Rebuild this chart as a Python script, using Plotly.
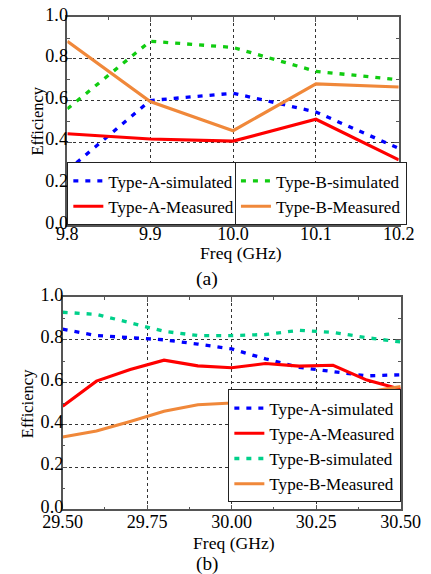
import plotly.graph_objects as go

# ---------------- data (a) ----------------
freq_a = [9.8, 9.9, 10.0, 10.1, 10.2]
a_sim_a = [0.264, 0.600, 0.635, 0.545, 0.370]
a_meas_a = [0.440, 0.415, 0.405, 0.510, 0.315]
b_sim_a = [0.560, 0.885, 0.855, 0.740, 0.700]
b_meas_a = [0.885, 0.595, 0.455, 0.680, 0.665]

# ---------------- data (b) ----------------
freq_b = [29.5, 29.6, 29.7, 29.8, 29.9, 30.0, 30.1, 30.2, 30.3, 30.4, 30.5]
a_sim_b = [0.850, 0.820, 0.810, 0.800, 0.780, 0.757, 0.710, 0.670, 0.650, 0.630, 0.635]
a_meas_b = [0.487, 0.605, 0.660, 0.704, 0.677, 0.668, 0.688, 0.676, 0.680, 0.610, 0.567]
b_sim_b = [0.930, 0.920, 0.880, 0.840, 0.820, 0.820, 0.825, 0.845, 0.835, 0.810, 0.790]
b_meas_b = [0.342, 0.370, 0.415, 0.463, 0.494, 0.502, 0.534, 0.543, 0.554, 0.554, 0.580]

names = ["Type-A-simulated", "Type-A-Measured", "Type-B-simulated", "Type-B-Measured"]

# layout helpers: target pixel positions are given in the 431x574 picture
S, M = 0.9655, 8.0
W, H = 440, 586
FONT = "Liberation Serif, Times New Roman, serif"
BLUE = "#0000FF"
RED = "#FF0000"
GREEN = "#11CC11"
TEAL = "#00D08A"
ORANGE = "#F0883A"
DASH = "5px,7px"


def fs(v):
    return v / S


def px(xp):
    return (xp / S - M) / W


def py(yp):
    return 1 - (yp / S - M) / H


fig = go.Figure()

series_a = [(a_sim_a, BLUE, True, "legend"), (a_meas_a, RED, False, "legend"),
            (b_sim_a, GREEN, True, "legend2"), (b_meas_a, ORANGE, False, "legend2")]
for name, (vals, col, dashed, leg) in zip(names, series_a):
    fig.add_trace(go.Scatter(
        x=freq_a, y=vals, name=name, mode="lines",
        line=dict(color=col, width=fs(3.2) if dashed else fs(3), dash=DASH if dashed else "solid"),
        xaxis="x", yaxis="y", legend=leg))

series_b = [(a_sim_b, BLUE, True), (a_meas_b, RED, False),
            (b_sim_b, TEAL, True), (b_meas_b, ORANGE, False)]
for name, (vals, col, dashed) in zip(names, series_b):
    fig.add_trace(go.Scatter(
        x=freq_b, y=vals, name=name, mode="lines",
        line=dict(color=col, width=fs(3.2) if dashed else fs(3), dash=DASH if dashed else "solid"),
        xaxis="x2", yaxis="y2", legend="legend3"))

axis_common = dict(
    showline=True, linecolor="#555555", linewidth=1.5, mirror="ticks",
    ticks="inside", ticklen=5, tickcolor="#555555", tickwidth=1.2,
    showgrid=True, gridcolor="#333333", griddash="dot", gridwidth=1,
    zeroline=False,
    tickfont=dict(family=FONT, size=fs(17.5), color="black"),
)
minor_common = dict(ticks="inside", ticklen=3, tickcolor="#555555", showgrid=False)

legend_common = dict(xanchor="left", yanchor="bottom",
                     bgcolor="white", bordercolor="#222222", borderwidth=1,
                     font=dict(family=FONT, size=fs(16.5)), tracegroupgap=0,
                     itemwidth=30)

fig.update_layout(
    width=W, height=H,
    margin=dict(l=0, r=0, t=0, b=0),
    paper_bgcolor="white", plot_bgcolor="white",
    font=dict(family=FONT, size=fs(16), color="black"),
    xaxis=dict(axis_common, domain=[px(58), px(410)], range=[9.8, 10.2],
               dtick=0.1, tick0=9.8, tickformat=".1f", anchor="y",
               ticklabelstandoff=-9,
               minor=dict(minor_common, dtick=0.05)),
    yaxis=dict(axis_common, domain=[py(220), py(12)], range=[0, 1],
               dtick=0.2, tickformat=".1f", anchor="x",
               ticklabelstandoff=-6, ticklabelshift=-3,
               minor=dict(minor_common, dtick=0.1)),
    xaxis2=dict(axis_common, domain=[px(53), px(412)], range=[29.5, 30.5],
                dtick=0.25, tick0=29.5, tickformat=".2f", anchor="y2",
                ticklabelstandoff=-5,
                minor=dict(minor_common, dtick=0.125)),
    yaxis2=dict(axis_common, domain=[py(504), py(292)], range=[0, 1],
                dtick=0.2, tickformat=".1f", anchor="x2",
                ticklabelstandoff=-6, ticklabelshift=-3,
                minor=dict(minor_common, dtick=0.1)),
    legend=dict(legend_common, x=px(58), y=py(220)),
    legend2=dict(legend_common, x=px(236), y=py(220)),
    legend3=dict(legend_common, x=px(229), y=py(497)),
    showlegend=True,
)

annots = [
    dict(text="Freq (GHz)", x=px(242), y=py(248), size=17),
    dict(text="(a)", x=px(206), y=py(273), size=19),
    dict(text="Freq (GHz)", x=px(235), y=py(538), size=17),
    dict(text="(b)", x=px(206), y=py(559), size=18.5),
]
for a in annots:
    fig.add_annotation(text=a["text"], x=a["x"], y=a["y"], xref="paper", yref="paper",
                       xanchor="center", yanchor="middle", showarrow=False,
                       font=dict(family=FONT, size=fs(a["size"]), color="black"))

fig.add_annotation(text="Efficiency", x=px(26), y=py(116), xref="paper", yref="paper",
                   xanchor="center", yanchor="middle", showarrow=False, textangle=-90,
                   font=dict(family=FONT, size=fs(16), color="black"))
fig.add_annotation(text="Efficiency", x=px(16), y=py(398), xref="paper", yref="paper",
                   xanchor="center", yanchor="middle", showarrow=False, textangle=-90,
                   font=dict(family=FONT, size=fs(16), color="black"))

fig.write_html("out.html")
